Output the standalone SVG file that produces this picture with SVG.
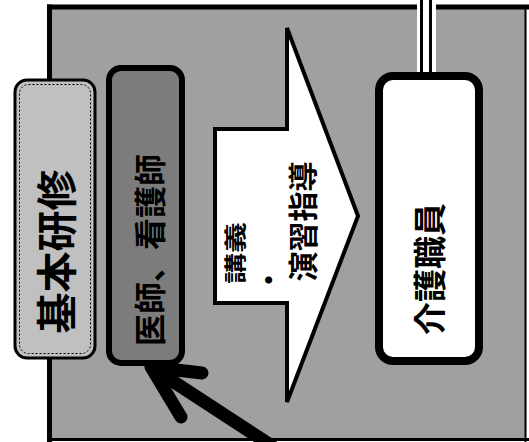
<svg xmlns="http://www.w3.org/2000/svg" width="529" height="442" viewBox="0 0 529 442">
  <style>
    .jp { font-family: "Noto Sans CJK JP", "Noto Sans CJK SC", sans-serif; font-weight: 700; fill: #000; }
  </style>
  <rect width="529" height="442" fill="#fff"/>

  <g id="frame">
    <rect x="49.5" y="7" width="476" height="432" fill="#a0a0a0"/>
    <line x1="49.5" y1="4.5" x2="49.5" y2="442" stroke="#000" stroke-width="5"/>
    <line x1="47" y1="7" x2="529" y2="7" stroke="#000" stroke-width="5"/>
    <line x1="525.5" y1="7" x2="525.5" y2="442" stroke="#000" stroke-width="2"/>
    <line x1="47" y1="439.5" x2="529" y2="439.5" stroke="#000" stroke-width="3"/>
  </g>

  <g id="connectors">
    <rect x="417" y="0" width="19" height="74" fill="#fff"/>
    <line x1="421.5" y1="0" x2="421.5" y2="74" stroke="#000" stroke-width="3"/>
    <line x1="430.5" y1="0" x2="430.5" y2="74" stroke="#000" stroke-width="3"/>
    <path d="M272 446 L151 367 M151 367 L202 373 M151 367 L181 417" stroke="#000" stroke-width="13" stroke-linecap="round" stroke-linejoin="round" fill="none"/>
  </g>

  <g id="kihon">
    <rect x="15" y="80" width="80" height="278" rx="12" fill="#c0c0c0" stroke="#000" stroke-width="3"/>
    <rect x="19.5" y="84.5" width="71" height="269" rx="9" fill="none" stroke="#000" stroke-width="1" stroke-dasharray="2 2"/>
    <text class="jp" font-size="41" text-anchor="middle" dominant-baseline="central" transform="translate(54,251.5) rotate(-90)">基本研修</text>
  </g>

  <g id="ishi">
    <rect x="109" y="68" width="73" height="295" rx="12" fill="#7c7c7c" stroke="#000" stroke-width="6"/>
    <text class="jp" font-size="32" text-anchor="middle" dominant-baseline="central" transform="translate(148,250) rotate(-90)">医師、看護師</text>
  </g>

  <g id="arrow">
    <polygon points="215,129 287,129 287,28 358,216 287,402 287,303 215,303" fill="#fff" stroke="#000" stroke-width="4" stroke-linejoin="miter"/>
    <text class="jp" font-size="31" text-anchor="middle" dominant-baseline="central" transform="translate(234,253) rotate(-90) scale(1,0.7)">講義</text>
    <text class="jp" font-size="28" text-anchor="middle" dominant-baseline="central" transform="translate(268,280) rotate(-90)">・</text>
    <text class="jp" font-size="30" text-anchor="middle" dominant-baseline="central" transform="translate(301,221.5) rotate(-90)">演習指導</text>
  </g>

  <g id="kaigo">
    <rect x="379" y="76" width="100" height="285" rx="14" fill="#fff" stroke="#000" stroke-width="8"/>
    <text class="jp" font-size="33" text-anchor="middle" dominant-baseline="central" transform="translate(428,269) rotate(-90)">介護職員</text>
  </g>
</svg>
